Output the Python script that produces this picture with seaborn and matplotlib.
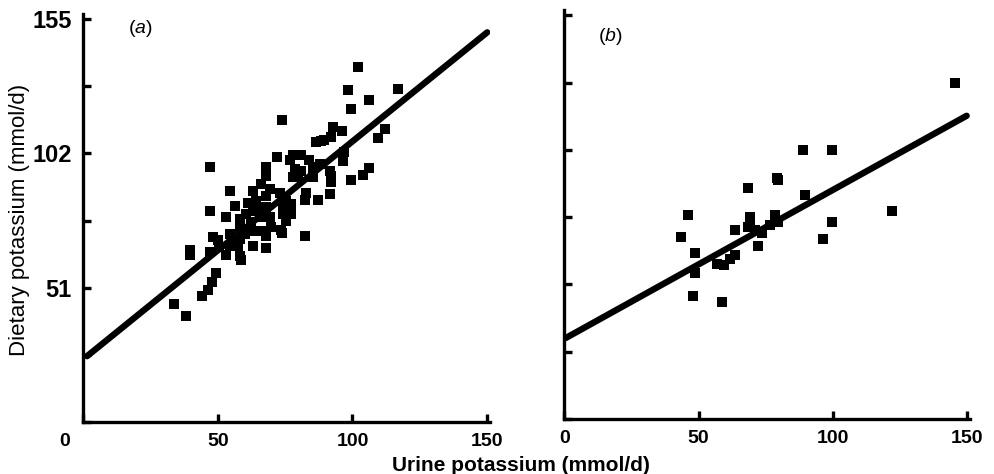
import numpy as np
import pandas as pd
import matplotlib
matplotlib.use("Agg")
import matplotlib.pyplot as plt
from matplotlib.transforms import ScaledTranslation
import seaborn as sns

# panel (a): urine vs dietary potassium (mmol/d)
urine_a = [102, 116.8, 98.5, 106, 99.3, 73.8, 92.7, 96, 112.2, 109.4,
           92, 86.5, 88.4, 89.6, 96.8, 96.4, 72, 47, 76.7, 81,
           84, 87.8, 78.5, 81, 77.9, 85.3, 91.5, 92, 106.3, 103.8,
           99.5, 68, 68, 66.2, 54.4, 63, 69.3, 73, 82.8, 91.5,
           87.2, 82.2, 75.4, 77.3, 56.3, 61.2, 64.3, 47, 53.2, 60.6,
           63, 68, 74.2, 75.4, 69.3, 65.6, 62.5, 58.1, 54.4, 73.8,
           82.5, 48.3, 50.1, 55.7, 60, 68, 69.9, 63, 68, 39.6,
           39.6, 47, 53.2, 58.1, 58.8, 49.5, 47.7, 46.4, 44, 33.8,
           38.4, 57.5, 54.4, 50.6, 58.1, 63, 66.8, 68, 74.2, 77.3,
           64.3, 58.1, 92, 85.3, 79.8, 73.6, 77.8]
diet_a = [135, 126.6, 126, 122.3, 119, 114.8, 112, 110.6, 111.2, 108,
          108.3, 106.2, 106.8, 107, 102.4, 99.3, 100.5, 97, 99.5, 101.5,
          99.5, 98, 96, 95.5, 93, 93, 95.5, 91, 96.3, 93.8,
          92, 96.7, 93.6, 90.4, 87.9, 87.9, 88.5, 86.9, 86.9, 86.6,
          84.5, 84.5, 84.1, 82.8, 82.2, 83.2, 84.1, 80, 78, 79,
          80.3, 81.6, 79, 76.5, 77.8, 77.8, 75.9, 74, 71.5, 71.8,
          70.5, 70.2, 69, 69.6, 71.5, 70.6, 74, 66.7, 66.2, 65.4,
          63.3, 64.5, 63.6, 62.9, 61.7, 56.6, 53.2, 50.3, 47.7, 45,
          40.2, 67, 67, 66.4, 69.6, 72.7, 72.7, 86, 82.8, 79,
          81.6, 77.2, 93.6, 96.7, 93, 72.9, 101.3]

# panel (b)
urine_b = [145.4, 88.7, 99.5, 79, 79.7, 68.5, 89.6, 46, 121.8, 69.2,
           78.4, 99.5, 79.7, 76.6, 63.6, 68.5, 71, 73.5, 43.5, 96.2,
           72, 48.7, 63.6, 61.7, 56.8, 59.6, 48.7, 47.8, 58.6, 69.2]
diet_b = [127.5, 102, 102, 91.3, 90.7, 87.5, 85, 77.4, 78.9, 76.5,
          77.4, 74.6, 74.5, 73.6, 71.7, 72.6, 71.7, 70.5, 68.9, 68.2,
          65.7, 62.9, 62.2, 60.6, 58.7, 58.5, 55.3, 46.8, 44.3, 73]

# fitted lines (end points as printed)
fit_a_x = [1.5, 150]
fit_a_y = [25, 148]
fit_b_x = [0.6, 149.7]
fit_b_y = [30.7, 114.9]

y_ticks = [0, 25.5, 51, 76.5, 102, 127.5, 153]
y_labels = ["", "", "51", "", "102", "", "155"]
x_ticks = [0, 50, 100, 150]

sns.set_style("white")
plt.rcParams['font.family'] = ['Liberation Sans', 'DejaVu Sans']
plt.rcParams['mathtext.fontset'] = 'custom'
plt.rcParams['mathtext.it'] = 'Liberation Sans:italic'
plt.rcParams['mathtext.rm'] = 'Liberation Sans'
plt.rcParams['text.color'] = 'black'
plt.rcParams['axes.labelcolor'] = 'black'

fig = plt.figure(figsize=(9.95, 4.74), dpi=100)
ax_a = fig.add_axes([0.0834, 0.1097, 0.409, 0.861])
ax_b = fig.add_axes([0.567, 0.116, 0.408, 0.863])

panels = [(ax_a, urine_a, diet_a, fit_a_x, fit_a_y, "(${a}$)", (0.11, 0.99)),
          (ax_b, urine_b, diet_b, fit_b_x, fit_b_y, "(${b}$)", (0.083, 0.96))]

for ax, ux, dy, fx, fy, tag, tpos in panels:
    df = pd.DataFrame({"urine": ux, "diet": dy})
    sns.scatterplot(data=df, x="urine", y="diet", ax=ax, marker="s", s=50,
                    color="black", edgecolor="black", linewidth=0)
    sns.lineplot(x=fx, y=fy, ax=ax, color="black", linewidth=4.6,
                 solid_capstyle="round")
    ax.set_xlim(0, 151)
    ax.set_ylim(0, 155)
    ax.set_xlabel("")
    ax.set_ylabel("")
    for side in ["top", "right"]:
        ax.spines[side].set_visible(False)
    for side in ["left", "bottom"]:
        ax.spines[side].set_linewidth(2.4)
        ax.spines[side].set_color("black")
    ax.set_xticks(x_ticks)
    ax.set_yticks(y_ticks)
    ax.tick_params(bottom=True, left=True, direction="in", length=6,
                   width=2.4, colors="black")
    ax.tick_params(axis="x", labelsize=14, pad=8)
    ax.tick_params(axis="y", labelsize=17, pad=8)
    for lbl in ax.get_xticklabels():
        lbl.set_fontweight("bold")
    ax.text(tpos[0], tpos[1], tag, transform=ax.transAxes, fontsize=14,
            ha="left", va="top")

ax_a.set_yticklabels(y_labels, fontweight="bold")
ax_b.set_yticklabels([""] * len(y_ticks))
ax_a.set_ylabel("Dietary potassium (mmol/d)", fontsize=16)
ax_a.yaxis.set_label_coords(-0.13, 0.495)

# the left "0" sits out under the corner
zero = ax_a.get_xticklabels()[0]
zero.set_transform(zero.get_transform() + ScaledTranslation(-0.18, 0, fig.dpi_scale_trans))

fig.text(0.524, 0.018, "Urine potassium (mmol/d)", ha="center", va="center",
         fontsize=15, fontweight="bold")

fig.savefig("out.png", dpi=100)
